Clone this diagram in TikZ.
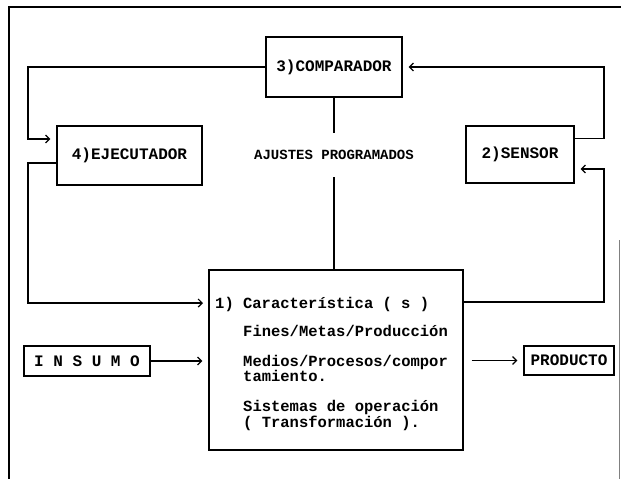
\documentclass[tikz,border=0pt]{standalone}
\usepackage{fontspec}
\setmainfont{Liberation Mono}
\usetikzlibrary{arrows.meta}
\begin{document}
\begin{tikzpicture}[x=1pt,y=-1pt,
  box/.style={draw, line width=1.2pt, inner sep=0pt, font=\fontsize{16}{16}\selectfont\bfseries},
  conn/.style={line width=1.2pt},
  arr/.style={conn, -{Straight Barb[length=4pt,width=8pt]}, shorten >=6pt},
  txt/.style={font=\fontsize{15.5}{13}\selectfont\bfseries, inner sep=0pt, align=left, anchor=north west}]
\useasboundingbox (0,0) rectangle (621,479);
% outer frame
\draw[line width=1.2pt] (9,479) -- (9,7) -- (621,7);
\draw[line width=1pt, gray] (619,240) -- (619,479);
% boxes
\node[box, minimum width=136pt, minimum height=60pt] (comp) at (334,67) {3)COMPARADOR};
\node[box, minimum width=145pt, minimum height=59pt] (ejec) at (129.5,155.5) {4)EJECUTADOR};
\node[box, minimum width=108pt, minimum height=57pt] (sens) at (520,154.5) {2)SENSOR};
\node[box, minimum width=254pt, minimum height=180pt] (char) at (336,360) {};
\node[box, minimum width=126pt, minimum height=30pt] (ins) at (87,361) {I N S U M O};
\node[box, minimum width=90pt, minimum height=29pt] (prod) at (569,360.5) {PRODUCTO};
\node[font=\fontsize{14}{14}\selectfont\bfseries, minimum height=44pt, inner sep=0pt] (aj) at (334,155) {AJUSTES PROGRAMADOS};
% text in box 1 (north west anchors: cap top about 5pt above line centre)
\node[txt] (t1) at (215,297) {1) Característica ( s )};
\node[txt] (t2) at (243,325) {Fines/Metas/Producción};
\node[txt] (t3) at (243,355) {Medios/Procesos/compor\\tamiento.};
\node[txt] (t5) at (243,400) {Sistemas de operación\\( Transformación ).};
% helper coordinates
\coordinate (L) at (28,0);
\coordinate (R) at (604,0);
\coordinate (ejIn) at ([yshift=16.5pt]ejec.west);
\coordinate (ejOut) at ([yshift=-7.5pt]ejec.west);
\coordinate (snOut) at ([yshift=16pt]sens.east);
\coordinate (snIn) at ([yshift=-14.5pt]sens.east);
\coordinate (chIn) at (209,303);
\coordinate (chOut) at (463,302);
% connectors
\draw[arr] (comp.west) -| (L |- ejIn) -- (ejIn);
\draw[arr] (snOut) -| (R |- comp.east) -- (comp.east);
\draw[arr] (ejOut) -| (L |- chIn) -- (chIn);
\draw[arr] (chOut) -| (R |- snIn) -- (snIn);
\draw[conn] (comp.south) -- (aj.north);
\draw[conn] (aj.south) -- (aj.south |- char.north);
\draw[arr] (ins.east) -- (ins.east -| char.west);
\draw[arr, shorten <=8pt] (char.east |- prod.west) -- (prod.west);
\end{tikzpicture}
\end{document}
